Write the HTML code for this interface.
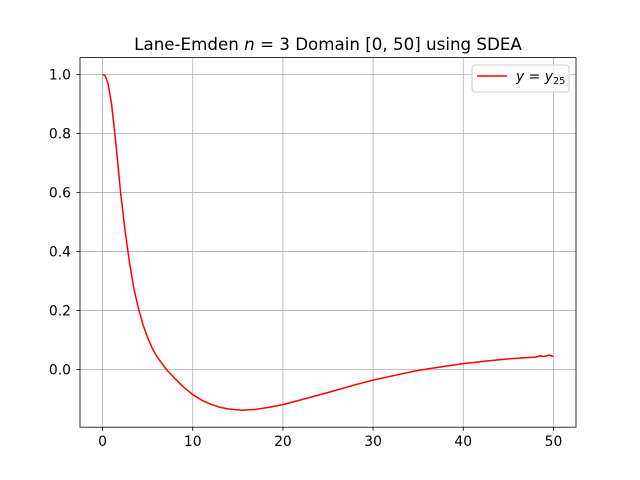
<!DOCTYPE html>
<html><head><meta charset="utf-8"><style>body{margin:0;background:#fff}svg{display:block;font-family:"DejaVu Sans","Liberation Sans",sans-serif}</style></head>
<body>
<svg id="chart" width="640" height="480">
<rect x="0" y="0" width="640" height="480" fill="#fff"/>
<g id="grid"></g>
<g id="ticks"></g>
<path id="curve" fill="none" stroke="#ff0000" stroke-width="1.5" stroke-linejoin="round"/>
<rect x="80" y="57.6" width="496" height="369.6" fill="none" stroke="#000" stroke-width="0.8"/>
<text x="328" y="50" font-size="16.7" text-anchor="middle">Lane-Emden <tspan font-style="italic">n</tspan> = 3 Domain [0, 50] using SDEA</text>
<g>
<rect x="472" y="65" width="97" height="27" rx="3" fill="#fff" fill-opacity="0.8" stroke="#ccc"/>
<line x1="477" y1="76" x2="507" y2="76" stroke="#ff0000" stroke-width="1.5"/>
<text x="516" y="81" font-size="13.9"><tspan font-style="italic">y</tspan> = <tspan font-style="italic">y</tspan><tspan font-size="9.7" dy="3">25</tspan></text>
</g>
</svg>
<script>
const xs=[0,0.3,0.6,1,1.5,2,2.5,3,3.5,4,4.5,5,5.5,6,7,8,9,10,11,12,13,14,15.5,17,18.5,20,22,25,28,30,33,35,38,40,43,45,46,47,48,48.5,49,49.5,50];
const ys=[1,0.995,0.97,0.9,0.76,0.6,0.47,0.36,0.27,0.205,0.15,0.108,0.073,0.045,0.003,-0.03,-0.06,-0.085,-0.104,-0.118,-0.128,-0.134,-0.138,-0.135,-0.128,-0.119,-0.103,-0.078,-0.052,-0.036,-0.016,-0.003,0.011,0.02,0.03,0.036,0.038,0.04,0.042,0.046,0.044,0.049,0.044];
const xTicks=[0,10,20,30,40,50];
const yTicks=[0.0,0.2,0.4,0.6,0.8,1.0];
const X=v=>80+(v+2.5)/55*496;
const Y=v=>57.6+(1.0569-v)/(1.0569+0.1956)*369.6;
const NS="http://www.w3.org/2000/svg";
const grid=document.getElementById('grid'),tk=document.getElementById('ticks');
function mk(t,a,p){const e=document.createElementNS(NS,t);for(const k in a)e.setAttribute(k,a[k]);p.appendChild(e);return e;}
xTicks.forEach(v=>{const x=X(v);
const g=mk('line',{x1:x,x2:x,y1:57.6,y2:427.2,stroke:'#b0b0b0','stroke-width':0.8},grid);


mk('line',{x1:x,x2:x,y1:427.2,y2:430.7,stroke:'#000','stroke-width':0.8},tk);
const t=mk('text',{x:x,y:446,'font-size':13.9,'text-anchor':'middle'},tk);t.textContent=v;

});
yTicks.forEach(v=>{const y=Y(v);
const g=mk('line',{x1:80,x2:576,y1:y,y2:y,stroke:'#b0b0b0','stroke-width':0.8},grid);


mk('line',{x1:76.5,x2:80,y1:y,y2:y,stroke:'#000','stroke-width':0.8},tk);
const t=mk('text',{x:71,y:y+5,'font-size':13.9,'text-anchor':'end'},tk);t.textContent=v.toFixed(1);

});
document.getElementById('curve').setAttribute('d',xs.map((v,i)=>(i?'L':'M')+X(v).toFixed(2)+','+Y(ys[i]).toFixed(2)).join(''));
</script>
</body></html>
